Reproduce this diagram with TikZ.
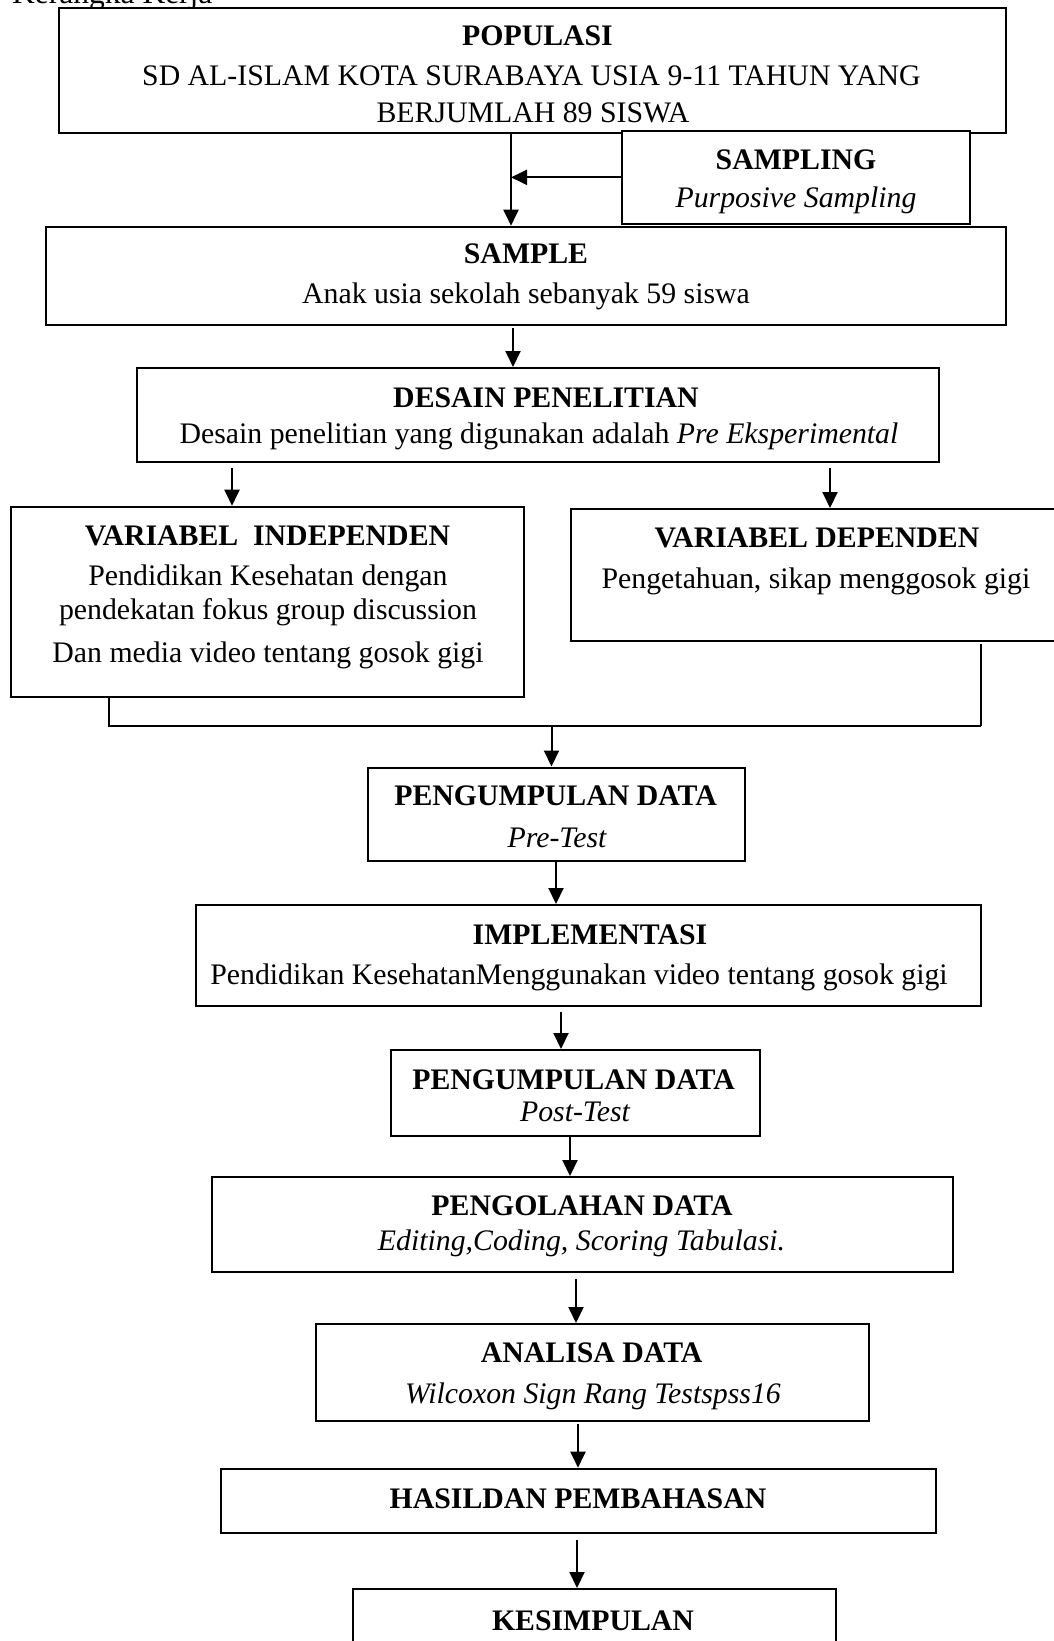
\documentclass[tikz,border=0pt]{standalone}
\usepackage{fontspec}
\setmainfont{Liberation Serif}
\usetikzlibrary{arrows.meta,calc}
\begin{document}
\begin{tikzpicture}[x=1pt,y=-1pt,
  font=\fontsize{29.8}{35}\selectfont,
  box/.style={draw, line width=2pt, rectangle, inner sep=0pt, fill=white},
  txt/.style={anchor=base, inner sep=0pt},
  hd/.style={txt, font=\fontsize{29.8}{35}\selectfont\bfseries},
  arr/.style={line width=2pt, -{Triangle[length=16pt,width=15pt]}},
  ln/.style={line width=2pt}]
\useasboundingbox[fill=white] (0,0) rectangle (1054,1641);

% title (cut off at top)
\node[anchor=base west, inner sep=0pt, font=\fontsize{31.5}{36}\selectfont] (title) at (12,3.5) {Kerangka Kerja};

% boxes
\node[box, minimum width=947pt, minimum height=125.5pt] (pop) at (532.5,70.25) {};
\node[box, minimum width=348pt, minimum height=93.3pt] (sampling) at (796,177.35) {};
\node[box, minimum width=960pt, minimum height=98.3pt] (sample) at (526,275.85) {};
\node[box, minimum width=802.5pt, minimum height=94pt] (desain) at (537.75,415) {};
\node[box, minimum width=513pt, minimum height=190pt] (indep) at (267.5,601.7) {};
\node[box, minimum width=492pt, minimum height=132pt] (depen) at (817,575) {};
\node[box, minimum width=377pt, minimum height=93.5pt] (peng1) at (556.5,814.25) {};
\node[box, minimum width=785pt, minimum height=100.7pt] (impl) at (588.5,955.35) {};
\node[box, minimum width=369pt, minimum height=86pt] (peng2) at (575.5,1093) {};
\node[box, minimum width=740.5pt, minimum height=95pt] (olah) at (582.25,1224.5) {};
\node[box, minimum width=553pt, minimum height=96.7pt] (analisa) at (592.5,1372.35) {};
\node[box, minimum width=715.5pt, minimum height=64.3pt] (hasil) at (578.25,1500.85) {};
\node[box, minimum width=482.5pt, minimum height=111pt] (kesim) at (594.25,1644.5) {};

% texts
\node[hd] (popH) at (537.5,45.7) {POPULASI};
\node[txt] (popT1) at (531.5,85) {SD AL-ISLAM KOTA SURABAYA USIA 9-11 TAHUN YANG};
\node[txt] (popT2) at (533,122.7) {BERJUMLAH 89 SISWA};
\node[hd] (samplingH) at (796,169) {SAMPLING};
\node[txt] (samplingT) at (796,207) {\itshape Purposive Sampling};
\node[hd] (sampleH) at (526,263) {SAMPLE};
\node[txt] (sampleT) at (526,303) {Anak usia sekolah sebanyak 59 siswa};
\node[hd] (desainH) at (546,407) {DESAIN PENELITIAN};
\node[txt] (desainT) at (539,443) {Desain penelitian yang digunakan adalah \textit{Pre Eksperimental}};
\node[hd] (indepH) at (267.5,545) {VARIABEL\hspace{0.5em}INDEPENDEN};
\node[txt] (indepT1) at (268,585) {Pendidikan Kesehatan dengan};
\node[txt] (indepT2) at (268,619) {pendekatan fokus group discussion};
\node[txt] (indepT3) at (268,662.7) {Dan media video tentang gosok gigi};
\node[hd] (depenH) at (817,547) {VARIABEL DEPENDEN};
\node[txt] (depenT) at (816,588) {Pengetahuan, sikap menggosok gigi};
\node[hd] (peng1H) at (555.6,805.7) {PENGUMPULAN DATA};
\node[txt] (peng1T) at (557,847) {\itshape Pre-Test};
\node[hd] (implH) at (590,944) {IMPLEMENTASI};
\node[txt] (implT) at (579,984) {Pendidikan KesehatanMenggunakan video tentang gosok gigi};
\node[hd] (peng2H) at (573.6,1089) {PENGUMPULAN DATA};
\node[txt] (peng2T) at (575,1121) {\itshape Post-Test};
\node[hd] (olahH) at (582,1215.7) {PENGOLAHAN DATA};
\node[txt] (olahT) at (581.5,1250.7) {\itshape Editing,Coding, Scoring Tabulasi.};
\node[hd] (analisaH) at (591.7,1362.7) {ANALISA DATA};
\node[txt] (analisaT) at (593,1403) {\itshape Wilcoxon Sign Rang Testspss16};
\node[hd] (hasilH) at (578,1508) {HASILDAN PEMBAHASAN};
\node[hd] (kesimH) at (593,1630) {KESIMPULAN};

% connector x positions
\coordinate (cA) at (511,178);
\coordinate (cB) at (513,0);
\coordinate (cL) at (232,0);
\coordinate (cR) at (830,0);
\coordinate (jL) at (109,726);
\coordinate (jR) at (981,726);
\coordinate (jM) at (551.5,726);
\coordinate (c1) at (556,0);
\coordinate (c2) at (561,0);
\coordinate (c3) at (570,0);
\coordinate (c4) at (576,0);
\coordinate (c5) at (578,0);
\coordinate (c6) at (577,0);

% connectors
\draw[arr] (pop.south -| cA) -- (sample.north -| cA);
\draw[arr] (sampling.west) -- (sampling.west -| cA);
\draw[arr, shorten <=2pt] (sample.south -| cB) -- (desain.north -| cB);
\draw[arr, shorten <=5pt] (desain.south -| cL) -- (indep.north -| cL);
\draw[arr, shorten <=5pt] (desain.south -| cR) -- (depen.north -| cR);
\draw[ln] (indep.south -| jL) -- (jL) -- (jR);
\draw[ln, shorten <=2pt] (depen.south -| jR) -- (jR);
\draw[arr] (jM) -- (peng1.north -| jM);
\draw[arr] (peng1.south -| c1) -- (impl.north -| c1);
\draw[arr, shorten <=5pt] (impl.south -| c2) -- (peng2.north -| c2);
\draw[arr] (peng2.south -| c3) -- (olah.north -| c3);
\draw[arr, shorten <=6pt] (olah.south -| c4) -- (analisa.north -| c4);
\draw[arr, shorten <=2pt] (analisa.south -| c5) -- (hasil.north -| c5);
\draw[arr, shorten <=6pt] (hasil.south -| c6) -- (kesim.north -| c6);
\end{tikzpicture}
\end{document}
